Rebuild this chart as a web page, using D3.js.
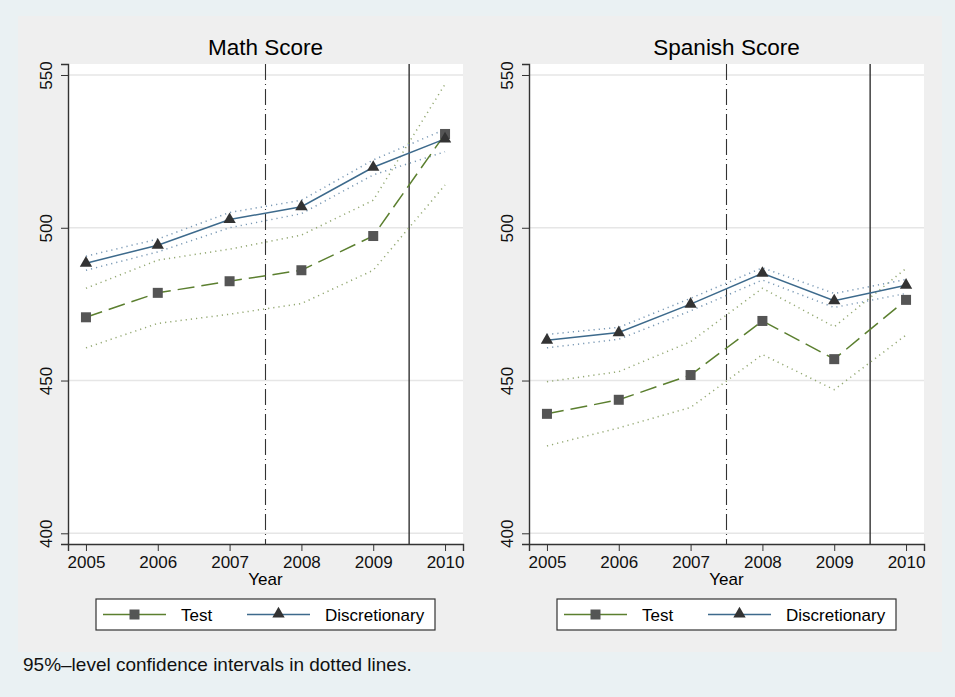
<!DOCTYPE html>
<html>
<head>
<meta charset="utf-8">
<script src="https://cdn.jsdelivr.net/npm/d3@7"></script>
<style>
  body { margin: 0; background: #eaf1f3; }
  svg { display: block; font-family: "Liberation Sans", Arial, sans-serif; }
</style>
</head>
<body>
<svg class="js-graph"></svg>
<script>
(function(d3) {
	var w = 955, h = 697,
		graph = d3.select('.js-graph').attr('width', w).attr('height', h);

	var years = [2005, 2006, 2007, 2008, 2009, 2010],
		yTicks = [400, 450, 500, 550],
		panelTitles = ['Math Score', 'Spanish Score'],
		seriesNames = ['Test', 'Discretionary'],
		// Math
		mathTest = [470.7, 478.7, 482.5, 486.1, 497.3, 530.7],
		mathTestLo = [460.7, 468.7, 471.7, 475.2, 486.1, 514.0],
		mathTestHi = [480.2, 489.4, 493.0, 497.6, 509.0, 547.0],
		mathDisc = [488.4, 494.3, 502.7, 506.9, 519.8, 529.1],
		mathDiscLo = [486.1, 492.1, 500.0, 504.6, 517.3, 524.9],
		mathDiscHi = [490.7, 496.3, 505.0, 509.0, 522.2, 532.2],
		// Spanish
		spanTest = [439.1, 443.7, 451.8, 469.5, 457.0, 476.4],
		spanTestLo = [428.6, 434.5, 441.2, 458.5, 447.0, 464.9],
		spanTestHi = [449.6, 452.9, 462.7, 480.2, 467.6, 486.7],
		spanDisc = [463.2, 465.7, 475.0, 485.1, 476.1, 481.2],
		spanDiscLo = [460.7, 463.5, 472.8, 482.9, 473.9, 478.5],
		spanDiscHi = [465.1, 467.4, 476.9, 486.9, 478.5, 483.1],
		cutoffs = [2007.5, 2009.5];

	var green = '#5b7f2f', blue = '#3d6a8c',
		greenCI = '#94a973', blueCI = '#7a99b5';

	// outer grey region
	graph.append('rect')
		.attr('x', 18).attr('y', 16).attr('width', 924).attr('height', 636)
		.attr('fill', '#efefef');

	var panels = [
		{ title: panelTitles[0], x0: 68, test: mathTest, testLo: mathTestLo, testHi: mathTestHi,
			disc: mathDisc, discLo: mathDiscLo, discHi: mathDiscHi },
		{ title: panelTitles[1], x0: 529, test: spanTest, testLo: spanTestLo, testHi: spanTestHi,
			disc: spanDisc, discLo: spanDiscLo, discHi: spanDiscHi }
	];

	panels.forEach(function(p) {
		var x = d3.scaleLinear().domain([2004.75, 2010.25]).range([p.x0, p.x0 + 395]),
			y = d3.scaleLinear().domain([396.5, 553.6]).range([544, 64]),
			g = graph.append('g');

		g.append('rect')
			.attr('x', x.range()[0]).attr('y', y.range()[1])
			.attr('width', x.range()[1] - x.range()[0])
			.attr('height', y.range()[0] - y.range()[1])
			.attr('fill', '#fff');

		// grid
		g.selectAll('line.grid')
			.data(yTicks)
			.enter()
			.append('line')
			.attr('x1', x.range()[0]).attr('x2', x.range()[1])
			.attr('y1', function(d) { return y(d); })
			.attr('y2', function(d) { return y(d); })
			.style('stroke', '#e6e6e6')
			.style('stroke-width', 1.6);

		g.append('text')
			.attr('x', x(2007.5)).attr('y', 55)
			.attr('text-anchor', 'middle')
			.style('font-size', '22.5px')
			.text(p.title);

		// cutoff lines
		g.append('line')
			.attr('x1', x(cutoffs[0])).attr('x2', x(cutoffs[0]))
			.attr('y1', y.range()[1]).attr('y2', y.range()[0])
			.style('stroke', '#333').style('stroke-width', 1.1)
			.style('stroke-dasharray', '16,4,1,4');
		g.append('line')
			.attr('x1', x(cutoffs[1])).attr('x2', x(cutoffs[1]))
			.attr('y1', y.range()[1]).attr('y2', y.range()[0])
			.style('stroke', '#333').style('stroke-width', 1.4);

		var line = function(vals) {
			return d3.line()
				.x(function(d, i) { return x(years[i]); })
				.y(function(d) { return y(d); })(vals);
		};

		[[p.testLo, greenCI], [p.testHi, greenCI], [p.discLo, blueCI], [p.discHi, blueCI]].forEach(function(c) {
			g.append('path')
				.attr('d', line(c[0]))
				.attr('fill', 'none')
				.style('stroke', c[1])
				.style('stroke-width', 1.5)
				.style('stroke-dasharray', '1.2,4');
		});

		g.append('path')
			.attr('d', line(p.test))
			.attr('fill', 'none')
			.style('stroke', green).style('stroke-width', 1.5)
			.style('stroke-dasharray', '17,7');
		g.append('path')
			.attr('d', line(p.disc))
			.attr('fill', 'none')
			.style('stroke', blue).style('stroke-width', 1.5);

		g.selectAll('rect.sq')
			.data(p.test)
			.enter()
			.append('rect')
			.attr('x', function(d, i) { return x(years[i]) - 5; })
			.attr('y', function(d) { return y(d) - 5; })
			.attr('width', 10).attr('height', 10)
			.attr('fill', '#555');

		g.selectAll('path.tri')
			.data(p.disc)
			.enter()
			.append('path')
			.attr('d', d3.symbol().type(d3.symbolTriangle).size(66))
			.attr('transform', function(d, i) { return 'translate(' + x(years[i]) + ',' + y(d) + ')'; })
			.attr('fill', '#333');

		// axes
		var xAxis = g.append('g')
			.attr('transform', 'translate(0,' + y.range()[0] + ')')
			.call(d3.axisBottom(x).tickValues(years).tickFormat(d3.format('d')).tickSize(7).tickPadding(5));
		var yAxis = g.append('g')
			.attr('transform', 'translate(' + x.range()[0] + ',0)')
			.call(d3.axisLeft(y).tickValues(yTicks).tickSize(7).tickPadding(8));
		[xAxis, yAxis].forEach(function(a) {
			a.select('.domain').style('stroke', '#333').style('stroke-width', 1.4);
			a.selectAll('.tick line').style('stroke', '#333');
			a.selectAll('.tick text').style('font-size', '17px').attr('fill', '#111')
				.style('font-family', '"Liberation Sans", Arial, sans-serif');
		});
		yAxis.selectAll('.tick text')
			.attr('transform', 'rotate(-90)')
			.attr('x', 0).attr('y', -16)
			.attr('dy', 0)
			.attr('text-anchor', 'middle');

		g.append('text')
			.attr('x', x(2007.5)).attr('y', 585)
			.attr('text-anchor', 'middle')
			.style('font-size', '17px')
			.text('Year');

		// legend
		var lx = x(2007.5) - 169.5;
		var lg = g.append('g').attr('transform', 'translate(' + lx + ',599)');
		lg.append('rect')
			.attr('width', 339).attr('height', 31)
			.attr('fill', '#fff').style('stroke', '#333').style('stroke-width', 1.2);
		lg.append('line')
			.attr('x1', 7).attr('x2', 70).attr('y1', 15.5).attr('y2', 15.5)
			.style('stroke', green).style('stroke-width', 1.5);
		lg.append('rect')
			.attr('x', 33.5).attr('y', 10.5).attr('width', 10).attr('height', 10)
			.attr('fill', '#555');
		lg.append('text')
			.attr('x', 85).attr('y', 21.5)
			.style('font-size', '17px').text(seriesNames[0]);
		lg.append('line')
			.attr('x1', 151).attr('x2', 214).attr('y1', 15.5).attr('y2', 15.5)
			.style('stroke', blue).style('stroke-width', 1.5);
		lg.append('path')
			.attr('d', d3.symbol().type(d3.symbolTriangle).size(66))
			.attr('transform', 'translate(182.5,15)')
			.attr('fill', '#333');
		lg.append('text')
			.attr('x', 229).attr('y', 21.5)
			.style('font-size', '17px').text(seriesNames[1]);
	});

	graph.append('text')
		.attr('x', 23).attr('y', 671)
		.style('font-size', '19px')
		.attr('fill', '#111')
		.text('95%\u2013level confidence intervals in dotted lines.');
})(d3);
</script>
</body>
</html>
